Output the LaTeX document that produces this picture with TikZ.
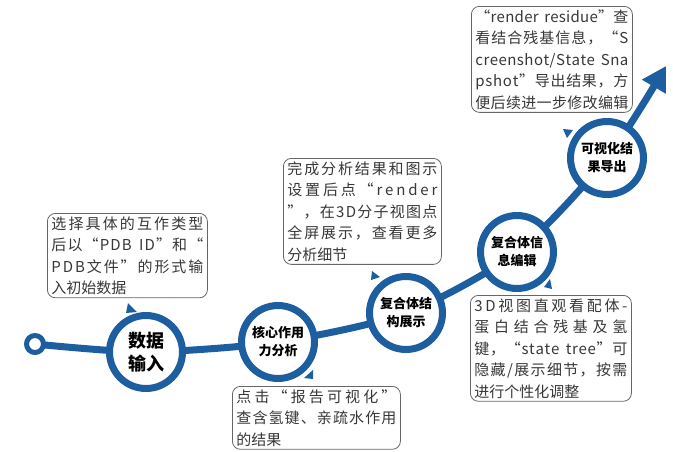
\documentclass[tikz,border=0pt]{standalone}
\usepackage{fontspec}
\setmainfont{Noto Sans CJK SC}
\usetikzlibrary{arrows.meta}
\definecolor{stageblue}{RGB}{28,94,160}
\definecolor{notetext}{RGB}{55,55,55}
\ExplSyntaxOn
\NewDocumentCommand{\fitline}{m}{\leavevmode\hbox~to~\linewidth{\tl_map_inline:nn{#1}{##1\hskip~0pt~plus~1fil}\unskip}}
\ExplSyntaxOff

\begin{document}
\begin{tikzpicture}[x=1pt,y=-1pt,
  route/.style={draw=stageblue,line width=7pt,-{Triangle[length=24pt,width=26pt]}},
  stage/.style={circle,draw=stageblue,line width=7pt,fill=white,minimum size=73pt,inner sep=0pt,align=center,font=\fontsize{13}{18}\selectfont\bfseries},
  note/.style={draw=black!60,line width=.8pt,rounded corners=8pt,anchor=north west,align=left,inner xsep=4pt,inner ysep=3pt,text=notetext,font=\fontsize{15}{21.5}\selectfont},
  tail/.style={fill=stageblue}]
  \useasboundingbox (0,0) rectangle (673,451);
  \coordinate (p0) at (35,344);
  \coordinate (p1) at (146,352);
  \coordinate (p2) at (278,342);
  \coordinate (p3) at (406,313);
  \coordinate (p4) at (517,252);
  \coordinate (p5) at (607,158);
  \coordinate (p6) at (666,66);
  \draw[route] plot[smooth,tension=.45] coordinates {(p0) (p1) (p2) (p3) (p4) (p5) (p6)};
  \node[circle,draw=stageblue,line width=5pt,fill=white,minimum size=17pt,inner sep=0pt] (s0) at (p0) {};
  \node[stage,font=\fontsize{18}{23}\selectfont\bfseries] (s1) at (p1) {数据\\输入};
  \node[stage] (s2) at (p2) {核心作用\\力分析};
  \node[stage] (s3) at (p3) {复合体结\\构展示};
  \node[stage] (s4) at (p4) {复合体信\\息编辑};
  \node[stage] (s5) at (p5) {可视化结\\果导出};
  \node[note,text width=152pt] (n1) at (47,213) {\fitline{选择具体的互作类型}\\\fitline{后以“PDB~ID”和“}\\\fitline{PDB文件”的形式输}\\入初始数据};
  \node[note,text width=160pt] (n2) at (232,386) {\fitline{点击“报告可视化”}\\\fitline{查含氢键、亲疏水作用}\\的结果};
  \node[note,text width=150pt] (n3) at (283,158) {\fitline{完成分析结果和图示}\\\fitline{设置后点“render}\\\fitline{”，在3D分子视图点}\\\fitline{全屏展示，查看更多}\\分析细节};
  \node[note,text width=153pt] (n4) at (470,295) {\fitline{3D视图直观看配体-}\\\fitline{蛋白结合残基及氢}\\\fitline{键，“state~tree”可}\\\fitline{隐藏/展示细节，按需}\\进行个性化调整};
  \node[note,text width=153pt] (n5) at (471,6) {\fitline{“render~residue”查}\\\fitline{看结合残基信息，“S}\\\fitline{creenshot/State~Sna}\\\fitline{pshot”导出结果，方}\\\fitline{便后续进一步修改编辑}};
  \fill[tail] (128,303)--(126,313)--(137,312)--cycle;
  \fill[tail] (313,370)--(313,379)--(304,378)--cycle;
  \fill[tail] (372,271)--(371,280)--(380,277)--cycle;
  \fill[tail] (550,279)--(552,289)--(544,287)--cycle;
  \fill[tail] (563,129)--(573,130)--(567,138)--cycle;
\end{tikzpicture}
\end{document}
